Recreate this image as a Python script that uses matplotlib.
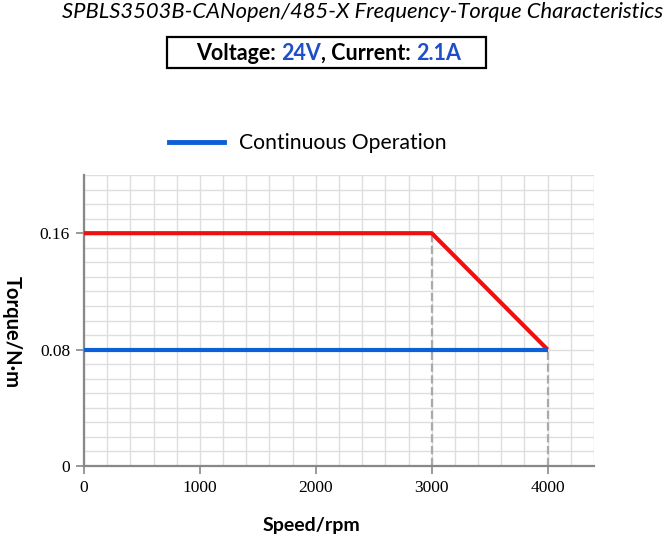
import matplotlib
matplotlib.use('Agg')
import matplotlib.pyplot as plt
from matplotlib.patches import Rectangle
from matplotlib.lines import Line2D

# data
speed_peak = [0, 3000, 4000]
torque_peak = [0.16, 0.16, 0.08]
speed_cont = [0, 4000]
torque_cont = [0.08, 0.08]
xticks = [0, 1000, 2000, 3000, 4000]
yticks = [0, 0.08, 0.16]
ytick_labels = ['0', '0.08', '0.16']

title = 'SPBLS3503B-CANopen/485-X Frequency-Torque Characteristics'
legend_label = 'Continuous Operation'
box_parts = [('Voltage: ', 'black'), ('24V', '#1f4fc8'),
             (', Current: ', 'black'), ('2.1A', '#1f4fc8')]

red = '#ee1111'
blue = '#0b5fd8'
gray = '#888888'
grid = '#dedede'
serif = 'Liberation Serif'
sans = 'Lato'

fig = plt.figure(figsize=(6.71, 5.40), dpi=100)
ax = fig.add_axes([84 / 671, 74 / 540, 510 / 671, 291 / 540])

ax.set_xlim(0, 4400)
ax.set_ylim(0, 0.2)
ax.set_xticks(range(0, 4401, 200), minor=True)
ax.set_yticks([i * 0.01 for i in range(21)], minor=True)
ax.set_xticks(xticks)
ax.set_yticks(yticks)
ax.set_yticklabels(ytick_labels)
ax.grid(which='both', color=grid, linewidth=1)
ax.set_axisbelow(True)
ax.tick_params(which='minor', length=0)
ax.tick_params(which='major', length=6, width=1.2, color=gray,
               labelsize=12.5, pad=4)
for lab in ax.get_xticklabels() + ax.get_yticklabels():
    lab.set_fontfamily(serif)
for side in ['top', 'right']:
    ax.spines[side].set_visible(False)
for side in ['left', 'bottom']:
    ax.spines[side].set_color(gray)
    ax.spines[side].set_linewidth(1.6)

# dashed drop lines
ax.plot([3000, 3000], [0, 0.16], '--', color='#aaaaaa', linewidth=1.6, zorder=2)
ax.plot([4000, 4000], [0, 0.08], '--', color='#aaaaaa', linewidth=1.6, zorder=2)

ax.plot(speed_peak, torque_peak, color=red, linewidth=3, zorder=3,
        solid_capstyle='butt')
ax.plot(speed_cont, torque_cont, color=blue, linewidth=3, zorder=3,
        solid_capstyle='butt')

# axis labels
fig.text(311 / 671, 1 - 525 / 540, 'Speed/rpm', ha='center', va='center',
         fontfamily=sans, fontweight='bold', fontsize=14)
fig.text(12 / 671, 1 - 332 / 540, 'Torque/N\u00b7m', ha='center',
         va='center', fontfamily=sans, fontweight='bold', fontsize=14.5,
         rotation=-90)

# legend
handle = Line2D([], [], color=blue, linewidth=3.5)
fig.legend([handle], [legend_label], loc='center left',
           bbox_to_anchor=(163 / 671, 1 - 143 / 540), frameon=False,
           prop={'family': sans, 'size': 15.2}, handlelength=2.6,
           handletextpad=0.7, borderaxespad=0, borderpad=0.3)

# title
fig.text(363 / 671, 1 - 12 / 540, title, ha='center', va='center',
         fontfamily=sans, fontstyle='italic', fontsize=15.8)

# voltage/current box
fig.patches.append(Rectangle((167 / 671, 1 - 68 / 540), 319 / 671, 31 / 540,
                             transform=fig.transFigure, fill=False,
                             edgecolor='black', linewidth=1.6))
prev = fig.text(196 / 671, 1 - 53 / 540, box_parts[0][0], ha='left',
                va='center', fontfamily=sans, fontweight='bold',
                fontsize=15.5, color=box_parts[0][1])
for txt, col in box_parts[1:]:
    prev = ax.annotate(txt, xy=(1, 0), xycoords=prev, ha='left',
                       va='bottom', fontfamily=sans, fontweight='bold',
                       fontsize=15.5, color=col, annotation_clip=False)

fig.savefig('out.png', dpi=100)
